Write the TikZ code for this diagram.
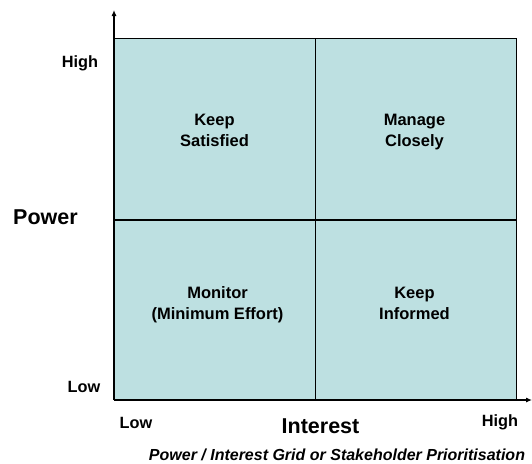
\documentclass[tikz,border=0pt]{standalone}
\usepackage{fontspec}
\setmainfont{Liberation Sans}
\usetikzlibrary{arrows.meta}
\definecolor{quad}{RGB}{189,224,225}
\tikzset{
  quadbox/.style={draw=black, line width=0.8pt, fill=quad, minimum width=201pt, minimum height=180.5pt, inner sep=0pt},
  qtext/.style={align=center, inner sep=0pt, font=\fontsize{16.5}{21}\selectfont\bfseries},
  lbl/.style={font=\fontsize{16.3}{19}\selectfont\bfseries, inner sep=0pt},
  big/.style={font=\fontsize{21.5}{25}\selectfont\bfseries, inner sep=0pt},
  axis/.style={line width=1.1pt, -{Latex[length=6pt,width=5pt]}}
}
\begin{document}
\begin{tikzpicture}[x=1pt,y=-1pt]
\useasboundingbox (0,0) rectangle (532,463);
\node[quadbox, anchor=south west] (ks) at (114,219.5) {};
\node[quadbox, anchor=south west] (mc) at (314.5,219.5) {};
\node[quadbox, anchor=north west] (mo) at (114,219.5) {};
\node[quadbox, anchor=north west] (ki) at (314.5,219.5) {};
\node[qtext] (tks) at (214.5,132) {\strut Keep\\\strut Satisfied};
\node[qtext] (tmc) at (414.5,132) {\strut Manage\\\strut Closely};
\node[qtext] (tmo) at (217.5,305) {\strut Monitor\\\strut (Minimum Effort)};
\node[qtext] (tki) at (414.5,305) {\strut Keep\\\strut Informed};
\coordinate (o) at (114,400);
\coordinate (ytip) at (114,10);
\coordinate (xtip) at (532,400);
\draw[axis] (o) -- (ytip);
\draw[axis] (o) -- (xtip);
\node[lbl] (yh) at (80,63) {High};
\node[big] (pw) at (45.5,217) {Power};
\node[lbl] (yl) at (84,387) {Low};
\node[lbl] (xl) at (136,423) {Low};
\node[big] (it) at (320.5,426) {Interest};
\node[lbl] (xh) at (500,422) {High};
\node[lbl, font=\fontsize{16}{19}\selectfont\bfseries\itshape] (cap) at (337,455) {Power / Interest Grid or Stakeholder Prioritisation};
\end{tikzpicture}
\end{document}
